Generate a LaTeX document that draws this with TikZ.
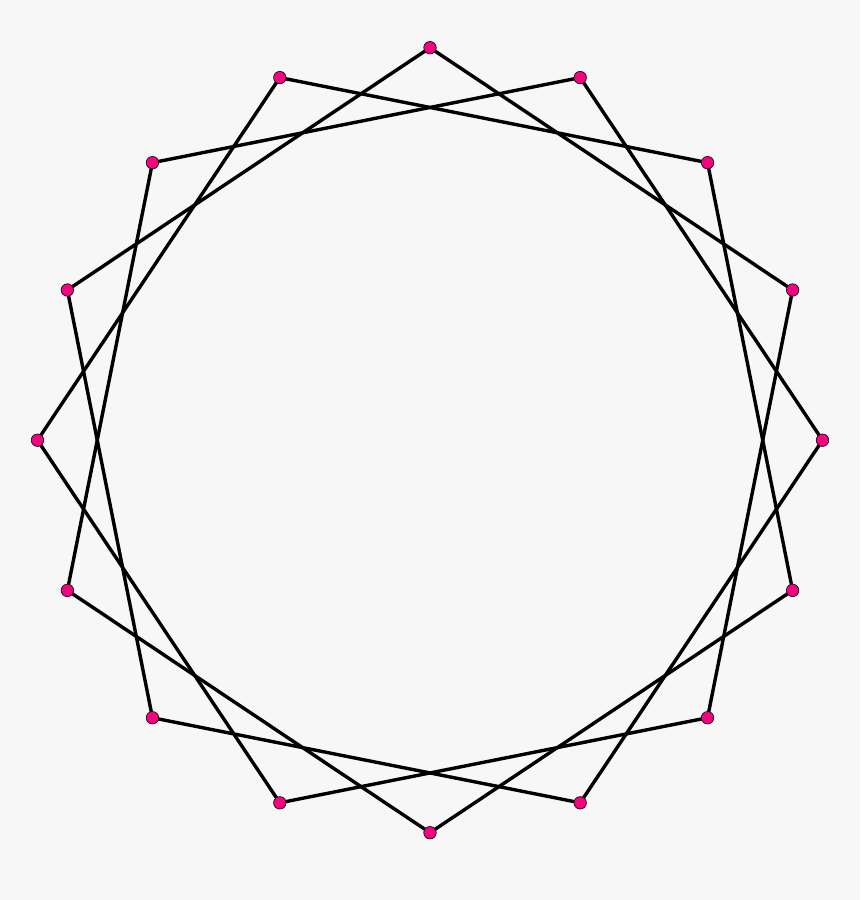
\documentclass[tikz,border=0pt]{standalone}
\definecolor{bg}{HTML}{F7F7F7}
\definecolor{vert}{HTML}{F0047F}
\begin{document}
\begin{tikzpicture}[x=1pt,y=-1pt,
  edge/.style={line width=3.4pt,black,line join=round},
  vtx/.style={circle,fill=vert,draw=black,line width=0.6pt,inner sep=0pt,minimum size=12.5pt}]
\fill[bg] (0,0) rectangle (860,900);
\useasboundingbox (0,0) rectangle (860,900);
\foreach \i in {0,...,15}{
  \coordinate (p\i) at ({430+392.5*cos(90+22.5*\i)},{440.2-392.5*sin(90+22.5*\i)});
}
\foreach \i in {0,...,15}{
  \pgfmathtruncatemacro{\j}{mod(\i+3,16)}
  \draw[edge] (p\i) -- (p\j);
}
\foreach \i in {0,...,15}{
  \node[vtx] (v\i) at (p\i) {};
}
\end{tikzpicture}
\end{document}
